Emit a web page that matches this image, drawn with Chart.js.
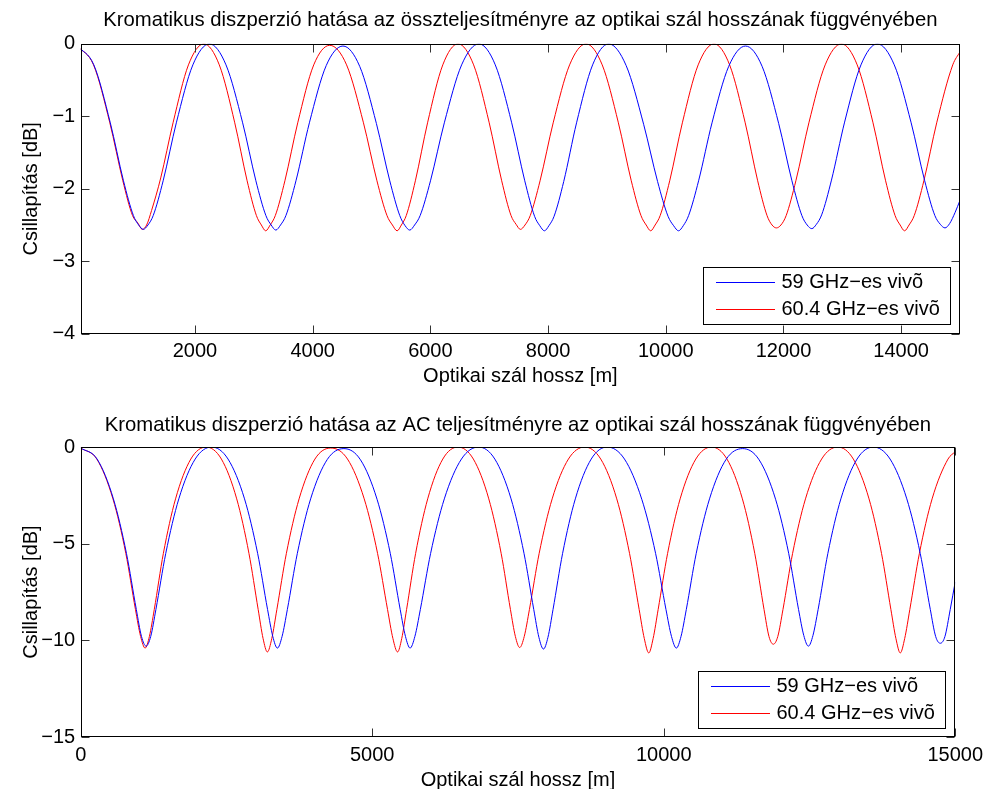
<!DOCTYPE html>
<html>
<head>
<meta charset="utf-8">
<title>Kromatikus diszperzió</title>
<script src="https://cdn.jsdelivr.net/npm/chart.js@4.4.1/dist/chart.umd.min.js"></script>
<style>
  html, body { margin: 0; padding: 0; background: #fff; overflow: hidden; }
  canvas { position: absolute; left: 0; }
  #totalChart { top: 0; }
  #acChart { top: 394px; }
</style>
</head>
<body>
<canvas id="totalChart" width="989" height="394"></canvas>
<canvas id="acChart" width="989" height="400"></canvas>
<script>
// fibre length [m] for each sample, 59 GHz and 60.4 GHz carriers
const blueX = [
    0, 281, 561, 785, 954, 1043,
    1122,
    1201, 1290, 1459, 1683, 1964,
    2245,
    2527, 2810, 3035, 3205, 3295,
    3374,
    3454, 3545, 3716, 3944, 4230,
    4515,
    4799, 5083, 5310, 5480, 5571,
    5650,
    5732, 5826, 6002, 6237, 6531,
    6825,
    7103, 7382, 7604, 7771, 7860,
    7938,
    8014, 8102, 8266, 8484, 8757,
    9030,
    9327, 9624, 9861, 10039, 10134,
    10217,
    10297, 10388, 10558, 10786, 11070,
    11355,
    11637, 11919, 12144, 12313, 12403,
    12482,
    12560, 12649, 12816, 13039, 13317,
    13595,
    13883, 14170, 14400, 14573, 14665,
    14745,
    14824, 14915, 15000
];
const redX = [
    0, 276, 553, 774, 939, 1028,
    1105,
    1178, 1262, 1418, 1627, 1889,
    2150,
    2413, 2676, 2886, 3044, 3128,
    3202,
    3278, 3365, 3528, 3746, 4018,
    4290,
    4576, 4863, 5092, 5263, 5355,
    5435,
    5507, 5590, 5745, 5952, 6211,
    6470,
    6735, 7000, 7212, 7371, 7456,
    7530,
    7608, 7697, 7864, 8087, 8366,
    8645,
    8920, 9195, 9414, 9579, 9667,
    9744,
    9819, 9905, 10067, 10282, 10551,
    10820,
    11085, 11350, 11562, 11721, 11806,
    11880,
    11957, 12046, 12211, 12432, 12709,
    12985,
    13253, 13522, 13736, 13897, 13983,
    14058,
    14134, 14222, 14386, 14604, 14877, 15000
];

// total power attenuation [dB]
const blueTotal = [
    -0.03, -0.29, -1.09, -1.89, -2.37, -2.50,
    -2.56,
    -2.50, -2.37, -1.89, -1.09, -0.29,
    0,
    -0.29, -1.09, -1.89, -2.37, -2.50,
    -2.57,
    -2.50, -2.37, -1.89, -1.09, -0.30,
    -0.03,
    -0.31, -1.10, -1.89, -2.37, -2.51,
    -2.57,
    -2.50, -2.37, -1.89, -1.09, -0.29,
    0,
    -0.29, -1.09, -1.89, -2.38, -2.51,
    -2.58,
    -2.51, -2.38, -1.90, -1.09, -0.29,
    0,
    -0.30, -1.11, -1.90, -2.38, -2.51,
    -2.58,
    -2.51, -2.37, -1.89, -1.09, -0.31,
    -0.03,
    -0.31, -1.10, -1.89, -2.37, -2.50,
    -2.55,
    -2.49, -2.36, -1.88, -1.08, -0.29,
    0,
    -0.29, -1.09, -1.89, -2.37, -2.49,
    -2.54,
    -2.48, -2.33, -2.16
];
const redTotal = [
    -0.03, -0.29, -1.09, -1.89, -2.37, -2.47,
    -2.56,
    -2.50, -2.30, -1.85, -1.09, -0.29,
    0,
    -0.29, -1.09, -1.89, -2.37, -2.50,
    -2.58,
    -2.50, -2.37, -1.89, -1.09, -0.29,
    -0.02,
    -0.29, -1.09, -1.89, -2.37, -2.50,
    -2.58,
    -2.50, -2.37, -1.89, -1.09, -0.29,
    0,
    -0.29, -1.09, -1.89, -2.37, -2.49,
    -2.56,
    -2.50, -2.37, -1.89, -1.09, -0.29,
    0,
    -0.29, -1.09, -1.89, -2.37, -2.50,
    -2.58,
    -2.50, -2.37, -1.89, -1.09, -0.29,
    0,
    -0.29, -1.09, -1.89, -2.37, -2.50,
    -2.54,
    -2.50, -2.37, -1.89, -1.09, -0.29,
    0,
    -0.29, -1.09, -1.89, -2.37, -2.50,
    -2.58,
    -2.50, -2.37, -1.89, -1.09, -0.29, -0.11
];

// AC power attenuation [dB]
const blueAC = [
    -0.05, -0.62, -2.68, -5.5, -8.4, -9.8,
    -10.3,
    -9.8, -8.4, -5.5, -2.68, -0.62,
    0,
    -0.62, -2.68, -5.5, -8.4, -9.8,
    -10.4,
    -9.8, -8.4, -5.5, -2.68, -0.64,
    -0.08,
    -0.66, -2.7, -5.5, -8.4, -9.8,
    -10.4,
    -9.8, -8.4, -5.5, -2.68, -0.62,
    0,
    -0.62, -2.68, -5.5, -8.4, -9.85,
    -10.45,
    -9.85, -8.4, -5.5, -2.68, -0.62,
    0,
    -0.62, -2.7, -5.5, -8.4, -9.8,
    -10.4,
    -9.8, -8.4, -5.5, -2.68, -0.64,
    -0.08,
    -0.66, -2.7, -5.5, -8.4, -9.75,
    -10.3,
    -9.75, -8.4, -5.5, -2.68, -0.62,
    0,
    -0.62, -2.68, -5.5, -8.4, -9.8,
    -10.15,
    -9.8, -8.4, -6.98
];
const redAC = [
    -0.05, -0.62, -2.68, -5.5, -8.4, -9.8,
    -10.4,
    -9.8, -8.4, -5.5, -2.68, -0.62,
    0,
    -0.62, -2.68, -5.5, -8.4, -9.9,
    -10.6,
    -9.9, -8.4, -5.5, -2.68, -0.62,
    -0.05,
    -0.62, -2.68, -5.5, -8.4, -9.9,
    -10.6,
    -9.9, -8.4, -5.5, -2.68, -0.62,
    0,
    -0.62, -2.68, -5.5, -8.4, -9.8,
    -10.37,
    -9.8, -8.4, -5.5, -2.68, -0.62,
    0,
    -0.62, -2.68, -5.5, -8.4, -9.9,
    -10.65,
    -9.9, -8.4, -5.5, -2.68, -0.62,
    0,
    -0.62, -2.68, -5.5, -8.4, -9.8,
    -10.2,
    -9.8, -8.4, -5.5, -2.68, -0.62,
    0,
    -0.62, -2.68, -5.5, -8.4, -9.9,
    -10.65,
    -9.9, -8.4, -5.5, -2.68, -0.62, -0.24
];

const seriesLabels = ['59 GHz\u2212es viv\u00f5', '60.4 GHz\u2212es viv\u00f5'];
const seriesColors = ['#0000ff', '#ff0000'];

const totalXTicks = [2000, 4000, 6000, 8000, 10000, 12000, 14000];
const totalYTicks = [0, -1, -2, -3, -4];
const acXTicks = [0, 5000, 10000, 15000];
const acYTicks = [0, -5, -10, -15];

const FONT = 'Liberation Sans, Arial, Helvetica, sans-serif';
Chart.defaults.font.family = FONT;
Chart.defaults.font.size = 20;
Chart.defaults.color = '#000';

function minusLabel(v) {
    return v < 0 ? '\u2212' + (-v) : String(v);
}

function toPoints(xs, ys) {
    return xs.map((x, i) => ({ x: x, y: ys[i] }));
}

// box around the plot, inward ticks on all four sides, legend in the lower right corner
const frameAndLegend = {
    id: 'frameAndLegend',
    afterDatasetsDraw(chart) {
        const { ctx, chartArea: a, scales: { x, y } } = chart;
        const L = Math.round(a.left) + 0.5, R = Math.round(a.right) - 0.5;
        const T = Math.round(a.top) + 0.5, B = Math.round(a.bottom) - 0.5;
        ctx.save();
        ctx.lineWidth = 1;

        ctx.strokeStyle = '#333';
        ctx.beginPath();
        x.ticks.forEach(t => {
            const px = Math.round(x.getPixelForValue(t.value)) + 0.5;
            ctx.moveTo(px, B); ctx.lineTo(px, B - 8);
            ctx.moveTo(px, T); ctx.lineTo(px, T + 8);
        });
        y.ticks.forEach(t => {
            const py = Math.round(y.getPixelForValue(t.value)) + 0.5;
            ctx.moveTo(L, py); ctx.lineTo(L + 8, py);
            ctx.moveTo(R, py); ctx.lineTo(R - 8, py);
        });
        ctx.stroke();

        ctx.strokeStyle = '#000';
        ctx.strokeRect(L, T, R - L, B - T);

        // legend box
        const w = 247, h = 57;
        const bx = Math.round(a.right - 10 - w);
        const by = Math.round(a.bottom - 9.5 - h);
        ctx.fillStyle = '#fff';
        ctx.fillRect(bx, by, w, h);
        ctx.strokeStyle = '#000';
        ctx.strokeRect(bx + 0.5, by + 0.5, w, h);
        ctx.font = '20px ' + FONT;
        ctx.textBaseline = 'middle';
        ctx.textAlign = 'left';
        for (let i = 0; i < seriesLabels.length; i++) {
            const ry = Math.round(by + 15.4 + i * 26.3);
            ctx.fillStyle = seriesColors[i];
            ctx.fillRect(bx + 13, ry, 59, 1);
            ctx.fillStyle = '#000';
            ctx.fillText(seriesLabels[i], bx + 78.4, ry + 0.5);
        }
        ctx.restore();
    }
};

function makeChart(id, opt) {
    return new Chart(document.getElementById(id), {
        type: 'line',
        data: {
            datasets: [
                { label: seriesLabels[0], data: toPoints(blueX, opt.blue), borderColor: seriesColors[0] },
                { label: seriesLabels[1], data: toPoints(redX, opt.red), borderColor: seriesColors[1] }
            ]
        },
        options: {
            responsive: false,
            animation: false,
            devicePixelRatio: 1,
            layout: { padding: { left: 0, right: 29, top: 0, bottom: 0 } },
            datasets: {
                line: { borderWidth: 1, pointRadius: 0, fill: false, cubicInterpolationMode: 'monotone' }
            },
            plugins: {
                legend: { display: false },
                tooltip: { enabled: false },
                title: {
                    display: true,
                    fullSize: false,
                    text: opt.title,
                    font: { size: 20.3, weight: 'normal', lineHeight: 1.2 },
                    color: '#000',
                    padding: opt.titlePad
                }
            },
            scales: {
                x: {
                    type: 'linear',
                    min: opt.xMin,
                    max: 15000,
                    grid: { display: false, drawTicks: false },
                    border: { display: false },
                    afterBuildTicks: s => { s.ticks = opt.xTicks.map(v => ({ value: v })); },
                    afterFit: s => { s.height = opt.xAxisHeight; },
                    ticks: { padding: 6, maxRotation: 0, font: { lineHeight: 1.2 }, callback: minusLabel },
                    title: {
                        display: true,
                        text: 'Optikai szál hossz [m]',
                        font: { size: 20, lineHeight: 1 },
                        padding: { top: 0, bottom: opt.xTitlePad }
                    }
                },
                y: {
                    min: opt.yMin,
                    max: 0,
                    grid: { display: false, drawTicks: false },
                    border: { display: false },
                    afterBuildTicks: s => { s.ticks = opt.yTicks.map(v => ({ value: v })); },
                    afterFit: s => { s.width = 80.7; },
                    ticks: { padding: 5.5, callback: minusLabel },
                    title: {
                        display: true,
                        text: 'Csillapítás [dB]',
                        font: { size: 20, lineHeight: 1 },
                        padding: { top: 21.5, bottom: 0 }
                    }
                }
            }
        },
        plugins: [frameAndLegend]
    });
}

makeChart('totalChart', {
    title: 'Kromatikus diszperzió hatása az összteljesítményre az optikai szál hosszának függvényében',
    titlePad: { top: 8.3, bottom: 11.2 },
    xMin: 58,
    xTicks: totalXTicks,
    yTicks: totalYTicks,
    yMin: -4,
    xAxisHeight: 60.3,
    xTitlePad: 8,
    blue: blueTotal,
    red: redTotal
});

makeChart('acChart', {
    title: 'Kromatikus diszperzió hatása az AC teljesítményre az optikai szál hosszának függvényében',
    titlePad: { top: 19, bottom: 9.7 },
    xMin: 0,
    xTicks: acXTicks,
    yTicks: acYTicks,
    yMin: -15,
    xAxisHeight: 57,
    xTitlePad: 4,
    blue: blueAC,
    red: redAC
});
</script>
</body>
</html>
